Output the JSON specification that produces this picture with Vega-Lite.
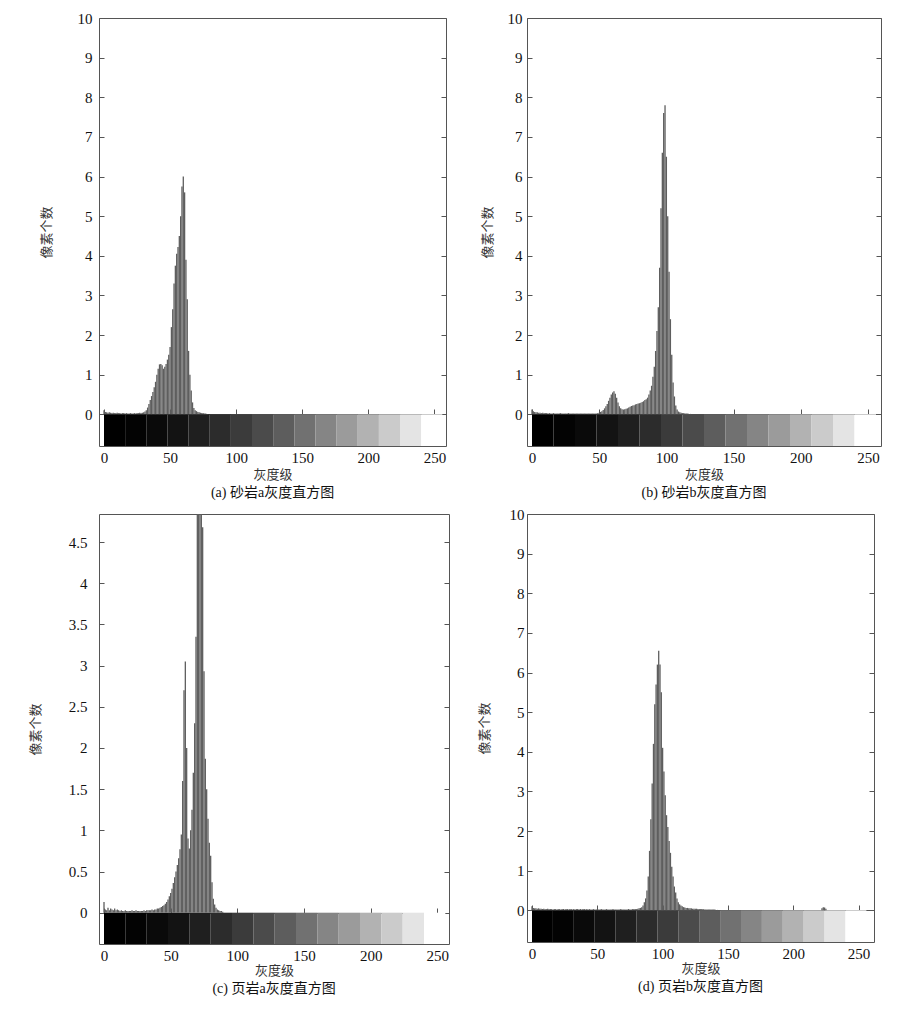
{
"$schema": "https://vega.github.io/schema/vega-lite/v6.json",
"background": "white",
"padding": {"left": 28, "top": 10, "right": 5, "bottom": 5},
"config": {
 "view": {"stroke": "#555", "strokeWidth": 1},
 "axis": {"grid": false, "labelFont": "Liberation Serif", "labelFontSize": 15, "labelColor": "#111", "titleFont": "Noto Sans CJK SC", "titleFontSize": 13, "titleFontWeight": "normal", "titleColor": "#333", "tickColor": "#555", "domainColor": "#555", "format": "~r"},
 "title": {"font": "Liberation Serif, Noto Sans CJK SC", "fontSize": 14, "fontWeight": "normal", "color": "#111", "orient": "bottom", "offset": 5}
},
"datasets": {
 "bands": [{"g0":0,"g1":16},{"g0":16,"g1":32},{"g0":32,"g1":48},{"g0":48,"g1":64},{"g0":64,"g1":80},{"g0":80,"g1":96},{"g0":96,"g1":112},{"g0":112,"g1":128},{"g0":128,"g1":144},{"g0":144,"g1":160},{"g0":160,"g1":176},{"g0":176,"g1":192},{"g0":192,"g1":208},{"g0":208,"g1":224},{"g0":224,"g1":240},{"g0":240,"g1":256}],
 "a": [{"g":0,"v":0.1},{"g":1,"v":0.06},{"g":2,"v":0.05},{"g":3,"v":0.04},{"g":4,"v":0.05},{"g":5,"v":0.04},{"g":6,"v":0.03},{"g":7,"v":0.04},{"g":8,"v":0.03},{"g":9,"v":0.03},{"g":10,"v":0.04},{"g":11,"v":0.03},{"g":12,"v":0.03},{"g":13,"v":0.02},{"g":14,"v":0.03},{"g":15,"v":0.03},{"g":16,"v":0.02},{"g":17,"v":0.03},{"g":18,"v":0.02},{"g":19,"v":0.02},{"g":20,"v":0.03},{"g":21,"v":0.02},{"g":22,"v":0.02},{"g":23,"v":0.03},{"g":24,"v":0.02},{"g":25,"v":0.03},{"g":26,"v":0.03},{"g":27,"v":0.04},{"g":28,"v":0.03},{"g":29,"v":0.04},{"g":30,"v":0.05},{"g":31,"v":0.07},{"g":32,"v":0.1},{"g":33,"v":0.17},{"g":34,"v":0.26},{"g":35,"v":0.36},{"g":36,"v":0.46},{"g":37,"v":0.56},{"g":38,"v":0.68},{"g":39,"v":0.82},{"g":40,"v":1.0},{"g":41,"v":1.15},{"g":42,"v":1.26},{"g":43,"v":1.27},{"g":44,"v":1.24},{"g":45,"v":1.15},{"g":46,"v":1.2},{"g":47,"v":1.27},{"g":48,"v":1.38},{"g":49,"v":1.5},{"g":50,"v":1.7},{"g":51,"v":2.2},{"g":52,"v":2.65},{"g":53,"v":3.3},{"g":54,"v":3.75},{"g":55,"v":4.05},{"g":56,"v":4.22},{"g":57,"v":4.5},{"g":58,"v":5.0},{"g":59,"v":5.75},{"g":60,"v":6.0},{"g":61,"v":5.6},{"g":62,"v":3.9},{"g":63,"v":2.9},{"g":64,"v":1.6},{"g":65,"v":1.0},{"g":66,"v":0.6},{"g":67,"v":0.3},{"g":68,"v":0.16},{"g":69,"v":0.1},{"g":70,"v":0.08},{"g":71,"v":0.06},{"g":72,"v":0.05},{"g":73,"v":0.04},{"g":74,"v":0.03},{"g":75,"v":0.03},{"g":76,"v":0.02},{"g":77,"v":0.02},{"g":78,"v":0.01}],
 "b": [{"g":0,"v":0.12},{"g":1,"v":0.08},{"g":2,"v":0.06},{"g":3,"v":0.05},{"g":4,"v":0.05},{"g":5,"v":0.04},{"g":6,"v":0.04},{"g":7,"v":0.03},{"g":8,"v":0.04},{"g":9,"v":0.03},{"g":10,"v":0.03},{"g":11,"v":0.03},{"g":12,"v":0.02},{"g":13,"v":0.03},{"g":14,"v":0.02},{"g":15,"v":0.02},{"g":16,"v":0.03},{"g":17,"v":0.02},{"g":18,"v":0.02},{"g":19,"v":0.02},{"g":20,"v":0.02},{"g":21,"v":0.03},{"g":22,"v":0.02},{"g":23,"v":0.02},{"g":24,"v":0.02},{"g":25,"v":0.02},{"g":26,"v":0.02},{"g":27,"v":0.03},{"g":28,"v":0.02},{"g":29,"v":0.02},{"g":30,"v":0.02},{"g":31,"v":0.02},{"g":32,"v":0.02},{"g":33,"v":0.02},{"g":34,"v":0.02},{"g":35,"v":0.02},{"g":36,"v":0.02},{"g":37,"v":0.02},{"g":38,"v":0.02},{"g":39,"v":0.02},{"g":40,"v":0.02},{"g":41,"v":0.02},{"g":42,"v":0.02},{"g":43,"v":0.02},{"g":44,"v":0.02},{"g":45,"v":0.02},{"g":46,"v":0.02},{"g":47,"v":0.02},{"g":48,"v":0.02},{"g":49,"v":0.03},{"g":50,"v":0.04},{"g":51,"v":0.06},{"g":52,"v":0.08},{"g":53,"v":0.11},{"g":54,"v":0.15},{"g":55,"v":0.2},{"g":56,"v":0.26},{"g":57,"v":0.34},{"g":58,"v":0.42},{"g":59,"v":0.5},{"g":60,"v":0.55},{"g":61,"v":0.58},{"g":62,"v":0.52},{"g":63,"v":0.42},{"g":64,"v":0.3},{"g":65,"v":0.2},{"g":66,"v":0.15},{"g":67,"v":0.13},{"g":68,"v":0.12},{"g":69,"v":0.13},{"g":70,"v":0.14},{"g":71,"v":0.15},{"g":72,"v":0.17},{"g":73,"v":0.19},{"g":74,"v":0.21},{"g":75,"v":0.22},{"g":76,"v":0.23},{"g":77,"v":0.25},{"g":78,"v":0.26},{"g":79,"v":0.27},{"g":80,"v":0.28},{"g":81,"v":0.29},{"g":82,"v":0.31},{"g":83,"v":0.33},{"g":84,"v":0.36},{"g":85,"v":0.38},{"g":86,"v":0.42},{"g":87,"v":0.5},{"g":88,"v":0.6},{"g":89,"v":0.72},{"g":90,"v":0.95},{"g":91,"v":1.2},{"g":92,"v":1.6},{"g":93,"v":2.1},{"g":94,"v":2.7},{"g":95,"v":3.7},{"g":96,"v":5.2},{"g":97,"v":6.6},{"g":98,"v":7.6},{"g":99,"v":7.8},{"g":100,"v":6.5},{"g":101,"v":5.0},{"g":102,"v":3.6},{"g":103,"v":2.4},{"g":104,"v":1.5},{"g":105,"v":0.8},{"g":106,"v":0.45},{"g":107,"v":0.22},{"g":108,"v":0.12},{"g":109,"v":0.07},{"g":110,"v":0.05},{"g":111,"v":0.04},{"g":112,"v":0.03},{"g":113,"v":0.03},{"g":114,"v":0.02},{"g":115,"v":0.02},{"g":116,"v":0.02},{"g":117,"v":0.01},{"g":118,"v":0.01}],
 "c": [{"g":0,"v":0.13},{"g":1,"v":0.04},{"g":2,"v":0.03},{"g":3,"v":0.06},{"g":4,"v":0.03},{"g":5,"v":0.05},{"g":6,"v":0.04},{"g":7,"v":0.03},{"g":8,"v":0.05},{"g":9,"v":0.03},{"g":10,"v":0.04},{"g":11,"v":0.03},{"g":12,"v":0.02},{"g":13,"v":0.03},{"g":14,"v":0.02},{"g":15,"v":0.02},{"g":16,"v":0.03},{"g":17,"v":0.02},{"g":18,"v":0.02},{"g":19,"v":0.02},{"g":20,"v":0.02},{"g":21,"v":0.03},{"g":22,"v":0.02},{"g":23,"v":0.02},{"g":24,"v":0.03},{"g":25,"v":0.02},{"g":26,"v":0.02},{"g":27,"v":0.02},{"g":28,"v":0.02},{"g":29,"v":0.02},{"g":30,"v":0.03},{"g":31,"v":0.02},{"g":32,"v":0.03},{"g":33,"v":0.03},{"g":34,"v":0.03},{"g":35,"v":0.03},{"g":36,"v":0.04},{"g":37,"v":0.03},{"g":38,"v":0.04},{"g":39,"v":0.04},{"g":40,"v":0.05},{"g":41,"v":0.05},{"g":42,"v":0.06},{"g":43,"v":0.07},{"g":44,"v":0.08},{"g":45,"v":0.09},{"g":46,"v":0.11},{"g":47,"v":0.13},{"g":48,"v":0.16},{"g":49,"v":0.2},{"g":50,"v":0.24},{"g":51,"v":0.29},{"g":52,"v":0.36},{"g":53,"v":0.43},{"g":54,"v":0.5},{"g":55,"v":0.58},{"g":56,"v":0.66},{"g":57,"v":0.77},{"g":58,"v":0.95},{"g":59,"v":1.6},{"g":60,"v":2.7},{"g":61,"v":3.05},{"g":62,"v":2.0},{"g":63,"v":0.9},{"g":64,"v":0.78},{"g":65,"v":1.0},{"g":66,"v":1.25},{"g":67,"v":1.7},{"g":68,"v":2.3},{"g":69,"v":3.35},{"g":70,"v":5.2},{"g":71,"v":5.6},{"g":72,"v":5.4},{"g":73,"v":5.0},{"g":74,"v":4.68},{"g":75,"v":2.93},{"g":76,"v":1.87},{"g":77,"v":1.5},{"g":78,"v":1.14},{"g":79,"v":0.85},{"g":80,"v":0.69},{"g":81,"v":0.37},{"g":82,"v":0.17},{"g":83,"v":0.1},{"g":84,"v":0.06},{"g":85,"v":0.04},{"g":86,"v":0.03},{"g":87,"v":0.02},{"g":88,"v":0.02},{"g":89,"v":0.01}],
 "d": [{"g":0,"v":0.1},{"g":1,"v":0.06},{"g":2,"v":0.05},{"g":3,"v":0.05},{"g":4,"v":0.04},{"g":5,"v":0.05},{"g":6,"v":0.04},{"g":7,"v":0.04},{"g":8,"v":0.03},{"g":9,"v":0.04},{"g":10,"v":0.03},{"g":11,"v":0.03},{"g":12,"v":0.04},{"g":13,"v":0.03},{"g":14,"v":0.03},{"g":15,"v":0.03},{"g":16,"v":0.02},{"g":17,"v":0.03},{"g":18,"v":0.03},{"g":19,"v":0.02},{"g":20,"v":0.03},{"g":21,"v":0.03},{"g":22,"v":0.02},{"g":23,"v":0.03},{"g":24,"v":0.03},{"g":25,"v":0.02},{"g":26,"v":0.03},{"g":27,"v":0.03},{"g":28,"v":0.02},{"g":29,"v":0.03},{"g":30,"v":0.03},{"g":31,"v":0.02},{"g":32,"v":0.03},{"g":33,"v":0.02},{"g":34,"v":0.03},{"g":35,"v":0.03},{"g":36,"v":0.02},{"g":37,"v":0.03},{"g":38,"v":0.02},{"g":39,"v":0.03},{"g":40,"v":0.03},{"g":41,"v":0.02},{"g":42,"v":0.03},{"g":43,"v":0.02},{"g":44,"v":0.03},{"g":45,"v":0.02},{"g":46,"v":0.02},{"g":47,"v":0.03},{"g":48,"v":0.02},{"g":49,"v":0.02},{"g":50,"v":0.03},{"g":51,"v":0.02},{"g":52,"v":0.02},{"g":53,"v":0.03},{"g":54,"v":0.02},{"g":55,"v":0.02},{"g":56,"v":0.02},{"g":57,"v":0.03},{"g":58,"v":0.02},{"g":59,"v":0.02},{"g":60,"v":0.02},{"g":61,"v":0.02},{"g":62,"v":0.03},{"g":63,"v":0.02},{"g":64,"v":0.02},{"g":65,"v":0.02},{"g":66,"v":0.02},{"g":67,"v":0.02},{"g":68,"v":0.03},{"g":69,"v":0.02},{"g":70,"v":0.02},{"g":71,"v":0.02},{"g":72,"v":0.02},{"g":73,"v":0.02},{"g":74,"v":0.03},{"g":75,"v":0.02},{"g":76,"v":0.02},{"g":77,"v":0.03},{"g":78,"v":0.03},{"g":79,"v":0.03},{"g":80,"v":0.03},{"g":81,"v":0.04},{"g":82,"v":0.05},{"g":83,"v":0.06},{"g":84,"v":0.08},{"g":85,"v":0.12},{"g":86,"v":0.2},{"g":87,"v":0.3},{"g":88,"v":0.5},{"g":89,"v":0.85},{"g":90,"v":1.5},{"g":91,"v":2.3},{"g":92,"v":3.2},{"g":93,"v":4.2},{"g":94,"v":5.2},{"g":95,"v":5.7},{"g":96,"v":6.2},{"g":97,"v":6.55},{"g":98,"v":6.2},{"g":99,"v":5.5},{"g":100,"v":4.1},{"g":101,"v":3.5},{"g":102,"v":2.9},{"g":103,"v":2.4},{"g":104,"v":2.1},{"g":105,"v":1.75},{"g":106,"v":1.45},{"g":107,"v":1.1},{"g":108,"v":0.85},{"g":109,"v":0.6},{"g":110,"v":0.45},{"g":111,"v":0.3},{"g":112,"v":0.2},{"g":113,"v":0.15},{"g":114,"v":0.12},{"g":115,"v":0.1},{"g":116,"v":0.08},{"g":117,"v":0.07},{"g":118,"v":0.06},{"g":119,"v":0.06},{"g":120,"v":0.05},{"g":121,"v":0.05},{"g":122,"v":0.05},{"g":123,"v":0.04},{"g":124,"v":0.04},{"g":125,"v":0.04},{"g":126,"v":0.04},{"g":127,"v":0.03},{"g":128,"v":0.03},{"g":129,"v":0.03},{"g":130,"v":0.03},{"g":131,"v":0.03},{"g":132,"v":0.02},{"g":133,"v":0.02},{"g":134,"v":0.02},{"g":135,"v":0.02},{"g":136,"v":0.02},{"g":137,"v":0.02},{"g":138,"v":0.02},{"g":139,"v":0.02},{"g":140,"v":0.02},{"g":141,"v":0.01},{"g":142,"v":0.01},{"g":143,"v":0.01},{"g":144,"v":0.01},{"g":222,"v":0.05},{"g":223,"v":0.08},{"g":224,"v":0.07},{"g":225,"v":0.04}]
},
"columns": 2,
"bounds": "flush",
"spacing": {"row": 68, "column": 78},
"concat": [
 {
  "width": 347, "height": 428,
  "title": {"text": "(a) 砂岩a灰度直方图"},
  "layer": [
   {"data": {"name": "bands"}, "mark": {"type": "rect", "clip": true},
    "encoding": {
     "x": {"field": "g0", "type": "quantitative", "scale": {"domain": [0, 255], "nice": false, "zero": false}, "axis": {"orient": "bottom", "offset": -32, "labels": false, "domain": true, "ticks": true, "tickSize": -5, "values": [0,50,100,150,200,250], "title": null}},
     "x2": {"field": "g1"},
     "y": {"datum": 0, "type": "quantitative", "scale": {"domain": [-0.8, 10], "nice": false}, "axis": {"orient": "right", "labels": false, "domain": false, "tickSize": -5, "values": [0,1,2,3,4,5,6,7,8,9,10], "title": null}},
     "y2": {"datum": -0.8},
     "color": {"field": "g0", "type": "quantitative", "scale": {"type": "pow", "exponent": 1.6, "domain": [0, 240], "range": ["#000000", "#ffffff"], "interpolate": "rgb"}, "legend": null}
    }},
   {"data": {"name": "a"}, "mark": {"type": "bar", "width": 1.3, "color": "#5e5e5e", "clip": true},
    "encoding": {
     "x": {"field": "g", "type": "quantitative", "scale": {"domain": [0, 255], "nice": false, "zero": false}, "axis": {"orient": "bottom", "values": [0,50,100,150,200,250], "ticks": false, "domain": false, "labelPadding": 4, "title": "灰度级", "titlePadding": 3}},
     "y": {"field": "v", "type": "quantitative", "scale": {"domain": [-0.8, 10], "nice": false}, "axis": {"orient": "left", "values": [0,1,2,3,4,5,6,7,8,9,10], "tickSize": -5, "labelPadding": 12, "domain": false, "title": "像素个数", "titlePadding": 24}}
    }}
  ],
  "resolve": {"axis": {"x": "independent", "y": "independent"}}
 },
 {
  "width": 354, "height": 428,
  "title": {"text": "(b) 砂岩b灰度直方图"},
  "layer": [
   {"data": {"name": "bands"}, "mark": {"type": "rect", "clip": true},
    "encoding": {
     "x": {"field": "g0", "type": "quantitative", "scale": {"domain": [0, 256], "nice": false, "zero": false}, "axis": {"orient": "bottom", "offset": -32, "labels": false, "domain": true, "ticks": true, "tickSize": -5, "values": [0,50,100,150,200,250], "title": null}},
     "x2": {"field": "g1"},
     "y": {"datum": 0, "type": "quantitative", "scale": {"domain": [-0.8, 10], "nice": false}, "axis": {"orient": "right", "labels": false, "domain": false, "tickSize": -5, "values": [0,1,2,3,4,5,6,7,8,9,10], "title": null}},
     "y2": {"datum": -0.8},
     "color": {"field": "g0", "type": "quantitative", "scale": {"type": "pow", "exponent": 1.6, "domain": [0, 240], "range": ["#000000", "#ffffff"], "interpolate": "rgb"}, "legend": null}
    }},
   {"data": {"name": "b"}, "mark": {"type": "bar", "width": 1.3, "color": "#5e5e5e", "clip": true},
    "encoding": {
     "x": {"field": "g", "type": "quantitative", "scale": {"domain": [0, 256], "nice": false, "zero": false}, "axis": {"orient": "bottom", "values": [0,50,100,150,200,250], "ticks": false, "domain": false, "labelPadding": 4, "title": "灰度级", "titlePadding": 3}},
     "y": {"field": "v", "type": "quantitative", "scale": {"domain": [-0.8, 10], "nice": false}, "axis": {"orient": "left", "values": [0,1,2,3,4,5,6,7,8,9,10], "tickSize": -5, "labelPadding": 10, "domain": false, "title": "像素个数", "titlePadding": 13}}
    }}
  ],
  "resolve": {"axis": {"x": "independent", "y": "independent"}}
 },
 {
  "width": 350, "height": 430,
  "title": {"text": "(c) 页岩a灰度直方图"},
  "layer": [
   {"data": {"name": "bands"}, "mark": {"type": "rect", "clip": true},
    "encoding": {
     "x": {"field": "g0", "type": "quantitative", "scale": {"domain": [0, 255], "nice": false, "zero": false}, "axis": {"orient": "bottom", "offset": -31, "labels": false, "domain": true, "ticks": true, "tickSize": -5, "values": [0,50,100,150,200,250], "title": null}},
     "x2": {"field": "g1"},
     "y": {"datum": 0, "type": "quantitative", "scale": {"domain": [-0.38, 4.84], "nice": false}, "axis": {"orient": "right", "labels": false, "domain": false, "tickSize": -5, "values": [0,0.5,1,1.5,2,2.5,3,3.5,4,4.5], "title": null}},
     "y2": {"datum": -0.38},
     "color": {"field": "g0", "type": "quantitative", "scale": {"type": "pow", "exponent": 1.6, "domain": [0, 240], "range": ["#000000", "#ffffff"], "interpolate": "rgb"}, "legend": null}
    }},
   {"data": {"name": "c"}, "mark": {"type": "bar", "width": 1.3, "color": "#5e5e5e", "clip": true},
    "encoding": {
     "x": {"field": "g", "type": "quantitative", "scale": {"domain": [0, 255], "nice": false, "zero": false}, "axis": {"orient": "bottom", "values": [0,50,100,150,200,250], "ticks": false, "domain": false, "labelPadding": 4, "title": "灰度级", "titlePadding": 1}},
     "y": {"field": "v", "type": "quantitative", "scale": {"domain": [-0.38, 4.84], "nice": false}, "axis": {"orient": "left", "values": [0,0.5,1,1.5,2,2.5,3,3.5,4,4.5], "tickSize": -5, "labelPadding": 17, "domain": false, "title": "像素个数", "titlePadding": 26}}
    }}
  ],
  "resolve": {"axis": {"x": "independent", "y": "independent"}}
 },
 {
  "width": 347, "height": 428,
  "title": {"text": "(d) 页岩b灰度直方图"},
  "layer": [
   {"data": {"name": "bands"}, "mark": {"type": "rect", "clip": true},
    "encoding": {
     "x": {"field": "g0", "type": "quantitative", "scale": {"domain": [0, 258], "nice": false, "zero": false}, "axis": {"orient": "bottom", "offset": -32, "labels": false, "domain": true, "ticks": true, "tickSize": -5, "values": [0,50,100,150,200,250], "title": null}},
     "x2": {"field": "g1"},
     "y": {"datum": 0, "type": "quantitative", "scale": {"domain": [-0.8, 10], "nice": false}, "axis": {"orient": "right", "labels": false, "domain": false, "tickSize": -5, "values": [0,1,2,3,4,5,6,7,8,9,10], "title": null}},
     "y2": {"datum": -0.8},
     "color": {"field": "g0", "type": "quantitative", "scale": {"type": "pow", "exponent": 1.6, "domain": [0, 240], "range": ["#000000", "#ffffff"], "interpolate": "rgb"}, "legend": null}
    }},
   {"data": {"name": "d"}, "mark": {"type": "bar", "width": 1.3, "color": "#5e5e5e", "clip": true},
    "encoding": {
     "x": {"field": "g", "type": "quantitative", "scale": {"domain": [0, 258], "nice": false, "zero": false}, "axis": {"orient": "bottom", "values": [0,50,100,150,200,250], "ticks": false, "domain": false, "labelPadding": 4, "title": "灰度级", "titlePadding": 1}},
     "y": {"field": "v", "type": "quantitative", "scale": {"domain": [-0.8, 10], "nice": false}, "axis": {"orient": "left", "values": [0,1,2,3,4,5,6,7,8,9,10], "tickSize": -5, "labelPadding": 8, "domain": false, "title": "像素个数", "titlePadding": 18}}
    }}
  ],
  "resolve": {"axis": {"x": "independent", "y": "independent"}}
 }
]
}
